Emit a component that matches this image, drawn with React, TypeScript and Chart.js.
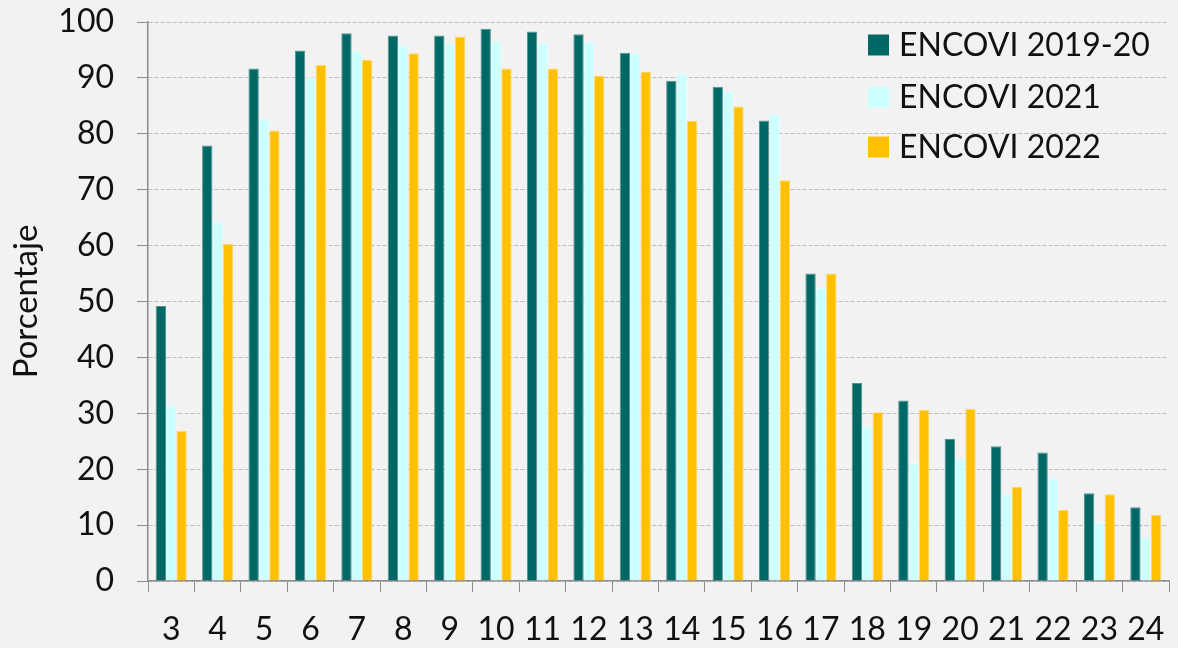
import React, { useEffect, useRef } from "react";
import { Chart, registerables } from "chart.js";

Chart.register(...registerables);

const ages = ["3","4","5","6","7","8","9","10","11","12","13","14","15","16","17","18","19","20","21","22","23","24"];
const encovi2019 = [49.2, 77.9, 91.7, 94.9, 98.0, 97.6, 97.6, 98.8, 98.3, 97.8, 94.5, 89.5, 88.4, 82.4, 55.0, 35.4, 32.3, 25.4, 24.1, 23.0, 15.7, 13.2];
const encovi2021 = [31.4, 64.2, 82.6, 90.1, 94.9, 95.8, 96.1, 96.5, 96.3, 96.5, 94.5, 90.8, 87.6, 83.5, 52.4, 27.6, 21.1, 21.9, 15.6, 18.4, 10.5, 7.9];
const encovi2022 = [26.9, 60.3, 80.6, 92.3, 93.2, 94.4, 97.4, 91.7, 91.7, 90.4, 91.1, 82.3, 84.9, 71.7, 55.0, 30.2, 30.6, 30.8, 16.8, 12.7, 15.5, 11.8];
const seriesLabels = ["ENCOVI 2019-20", "ENCOVI 2021", "ENCOVI 2022"];
const yTicks = [0, 10, 20, 30, 40, 50, 60, 70, 80, 90, 100];

const FONT = "Lato, 'Open Sans', sans-serif";
const COLORS = ["#006865", "#ccffff", "#ffc000"];
const BORDERS = ["#4f9391", "#e6ffff", "#ffd563"];
const AXIS = "#8c8c8c";

const legendPlugin = {
  id: "insideLegend",
  afterDraw(chart: any) {
    const ctx = chart.ctx;
    ctx.save();
    ctx.font = `400 32px ${FONT}`;
    ctx.textBaseline = "middle";
    ctx.textAlign = "left";
    const rows = [45, 97, 147];
    chart.data.datasets.forEach((ds: any, i: number) => {
      const y = rows[i];
      ctx.fillStyle = ds.backgroundColor;
      ctx.fillRect(868, y - 10.5, 21, 21);
      ctx.fillStyle = "#111";
      ctx.fillText(ds.label, 899, y + 1);
    });
    ctx.restore();
  },
};

export default function App() {
  const ref = useRef<HTMLCanvasElement | null>(null);
  useEffect(() => {
    if (!ref.current) return;
    const data = [encovi2019, encovi2021, encovi2022];
    const chart = new Chart(ref.current, {
      type: "bar",
      data: {
        labels: ages,
        datasets: data.map((d, i) => ({
          label: seriesLabels[i],
          data: d,
          backgroundColor: COLORS[i],
          borderColor: BORDERS[i],
          borderWidth: 1,
          categoryPercentage: 0.67,
          barPercentage: 1,
        })),
      },
      options: {
        animation: false,
        responsive: false,
        maintainAspectRatio: false,
        layout: { padding: { top: 22, right: 9, left: 0, bottom: 0 } },
        plugins: {
          legend: { display: false },
          tooltip: { enabled: false },
        },
        scales: {
          x: {
            grid: {
              display: true,
              drawOnChartArea: false,
              drawTicks: true,
              tickLength: 11,
              tickColor: AXIS,
              offset: true,
            },
            border: { display: true, color: AXIS, width: 1.5 },
            ticks: {
              color: "#111",
              font: { family: FONT, size: 32, weight: "400" as any },
              padding: 18,
              maxRotation: 0,
              autoSkip: false,
            },
            afterFit(scale: any) {
              scale.height = 67;
              scale.paddingLeft = 0;
              scale.paddingRight = 0;
            },
          },
          y: {
            min: 0,
            max: 100,
            afterBuildTicks(scale: any) {
              scale.ticks = yTicks.map((v) => ({ value: v }));
            },
            grid: {
              color: "#bdbdbd",
              lineWidth: 1,
              tickLength: 11,
              tickColor: AXIS,
              tickBorderDash: [],
              drawTicks: true,
            },
            border: { display: true, color: AXIS, width: 1.5, dash: [4, 2] },
            ticks: {
              color: "#111",
              font: { family: FONT, size: 32, weight: "400" as any },
              padding: 23,
            },
            title: {
              display: true,
              text: "Porcentaje",
              color: "#111",
              font: { family: FONT, size: 33, weight: "400" as any },
              padding: { top: 7, bottom: 0 },
            },
            afterFit(scale: any) {
              scale.width = 148;
              scale.paddingTop = 0;
              scale.paddingBottom = 0;
            },
          },
        },
      } as any,
      plugins: [legendPlugin],
    });
    return () => chart.destroy();
  }, []);
  return (
    <div style={{ position: "fixed", left: 0, top: 0, width: 1178, height: 648, background: "#f2f2f2" }}>
      <canvas ref={ref} width={1178} height={648} style={{ display: "block" }} />
    </div>
  );
}
